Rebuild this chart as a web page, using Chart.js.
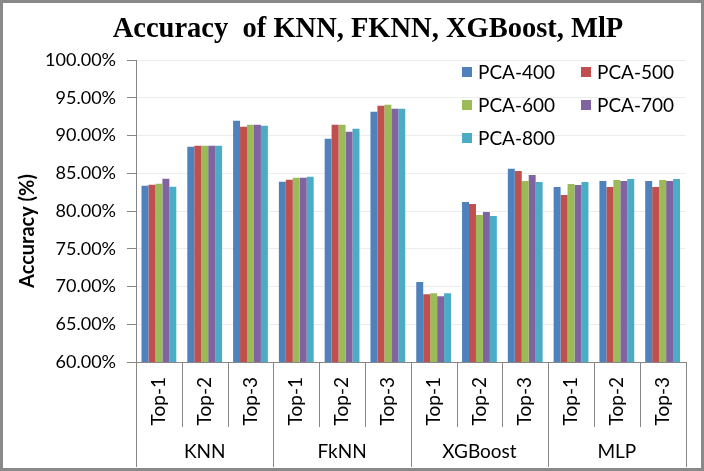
<!DOCTYPE html>
<html>
<head>
<meta charset="utf-8">
<title>Accuracy of KNN, FKNN, XGBoost, MlP</title>
<script src="https://cdn.jsdelivr.net/npm/chart.js@4.4.1/dist/chart.umd.min.js"></script>
<style>
  html, body { margin: 0; padding: 0; background: #fff; }
  #frame {
    position: relative;
    width: 704px;
    height: 471px;
    box-sizing: border-box;
    border: 3px solid #898989;
    background: #fff;
  }
</style>
</head>
<body>
<div id="frame"><canvas id="accChart"></canvas></div>

<script>
// ============================================================
// DATA
// ============================================================

const TITLE = "Accuracy  of KNN, FKNN, XGBoost, MlP";
const Y_TITLE = "Accuracy (%)";

const groups = ["KNN", "FkNN", "XGBoost", "MLP"];
const topLabels = ["Top-1", "Top-2", "Top-3"];
const categories = groups.flatMap(() => topLabels);

const seriesNames = ["PCA-400", "PCA-500", "PCA-600", "PCA-700", "PCA-800"];
const seriesColors = ["#4f81bd", "#c0504d", "#9bbb59", "#8064a2", "#4bacc6"];

const pca400 = [83.36, 88.52, 91.96, 83.89, 89.58, 93.16, 70.58, 81.19, 85.58, 83.19, 83.98, 83.98];
const pca500 = [83.49, 88.65, 91.17, 84.15, 91.43, 93.95, 68.98, 80.93, 85.31, 82.12, 83.19, 83.19];
const pca600 = [83.62, 88.65, 91.43, 84.42, 91.43, 94.08, 69.12, 79.47, 83.98, 83.58, 84.12, 84.12];
const pca700 = [84.28, 88.65, 91.43, 84.42, 90.51, 93.55, 68.72, 79.87, 84.78, 83.45, 83.98, 83.98];
const pca800 = [83.22, 88.65, 91.30, 84.55, 90.91, 93.55, 69.12, 79.34, 83.85, 83.85, 84.25, 84.25];

const seriesValues = [pca400, pca500, pca600, pca700, pca800];

const yMin = 60;
const yMax = 100;
const yStep = 5;


// ============================================================
// STYLE
// ============================================================

const FONT = "Lato, 'Open Sans', sans-serif";
const AXIS_GRAY = "#868686";

Chart.defaults.font.family = FONT;
Chart.defaults.color = "#000";


// ============================================================
// TITLE, AXIS TITLE, GROUP LABELS, LEGEND (drawn by hand)
// ============================================================

const decorPlugin = {
  id: "decor",
  afterDraw(chart) {
    const { ctx, chartArea: area, scales: { x } } = chart;
    ctx.save();

    // ---------------- chart title
    ctx.fillStyle = "#000";
    ctx.font = "bold 28.5px 'Liberation Serif', 'Times New Roman', serif";
    ctx.textAlign = "center";
    ctx.textBaseline = "alphabetic";
    ctx.fillText(TITLE, 365, 34);

    // ---------------- y axis title
    ctx.save();
    ctx.translate(25, 228);
    ctx.rotate(-Math.PI / 2);
    ctx.font = "bold 20px " + FONT;
    ctx.textBaseline = "middle";
    ctx.fillText(Y_TITLE, 0, 0);
    ctx.restore();

    // ---------------- category separators below the axis
    ctx.strokeStyle = AXIS_GRAY;
    ctx.lineWidth = 1;
    for (let i = 0; i <= categories.length; i++) {
      const px = Math.round(x.getPixelForValue(i - 0.5)) + 0.5;
      const isGroupEdge = i % topLabels.length === 0;
      ctx.beginPath();
      ctx.moveTo(px, area.bottom);
      ctx.lineTo(px, area.bottom + (isGroupEdge ? 105 : 65));
      ctx.stroke();
    }

    // ---------------- group labels
    ctx.font = "19px " + FONT;
    ctx.textAlign = "center";
    ctx.textBaseline = "middle";
    groups.forEach((g, gi) => {
      const cx = x.getPixelForValue(gi * topLabels.length + 1);
      ctx.fillText(g, cx, area.bottom + 90);
    });

    // ---------------- legend (two columns inside the plot)
    ctx.textAlign = "left";
    chart.data.datasets.forEach((ds, i) => {
      const col = i % 2;
      const row = Math.floor(i / 2);
      const bx = 459 + col * 119;
      const by = 69 + row * 33;
      ctx.fillStyle = ds.backgroundColor;
      ctx.fillRect(bx, by - 5, 10, 10);
      ctx.fillStyle = "#000";
      ctx.font = "19px " + FONT;
      ctx.fillText(ds.label, bx + 16, by + 1);
    });

    ctx.restore();
  }
};


// ============================================================
// CHART
// ============================================================

new Chart(document.getElementById("accChart"), {
  type: "bar",
  data: {
    labels: categories,
    datasets: seriesNames.map((name, i) => ({
      label: name,
      data: seriesValues[i],
      backgroundColor: seriesColors[i],
      borderWidth: 0,
      barPercentage: 1.0,
      categoryPercentage: 0.76
    }))
  },
  options: {
    responsive: true,
    maintainAspectRatio: false,
    animation: false,
    layout: { padding: { top: 57, right: 14, bottom: 0, left: 0 } },
    plugins: {
      legend: { display: false },
      title: { display: false },
      tooltip: { enabled: false }
    },
    scales: {
      x: {
        offset: true,
        grid: { display: false, drawTicks: false },
        border: { display: true, color: AXIS_GRAY },
        ticks: {
          autoSkip: false,
          minRotation: 90,
          maxRotation: 90,
          padding: 15,
          font: { size: 19 }
        },
        afterFit(scale) { scale.height = 106; }
      },
      y: {
        min: yMin,
        max: yMax,
        ticks: {
          stepSize: yStep,
          padding: 11,
          font: { size: 18 },
          callback: v => v.toFixed(2) + "%"
        },
        grid: { color: "#ececec", tickColor: AXIS_GRAY, tickLength: 9 },
        border: { color: AXIS_GRAY },
        afterFit(scale) { scale.width = 133; }
      }
    }
  },
  plugins: [decorPlugin]
});
</script>
</body>
</html>
